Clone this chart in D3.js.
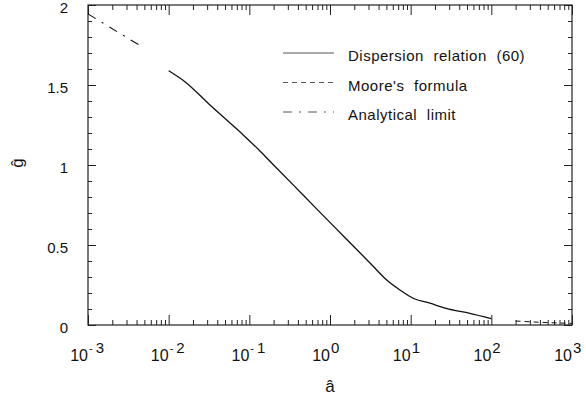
<!DOCTYPE html>
<html>
<head>
<meta charset="utf-8">
<script src="https://cdn.jsdelivr.net/npm/d3@7"></script>
<style>
  body { margin: 0; background: #fff; }
  svg text { font-family: "Liberation Sans", Arial, sans-serif; fill: #111; }
  .tick line { stroke: #222; }
</style>
</head>
<body>
<div id="chart"></div>
<script>
// Dispersion relation (60)
const dispA = [0.01, 0.0159, 0.0325, 0.0524, 0.084, 0.129, 0.189, 0.367, 0.65, 1.15, 2.04, 3.43, 5.05, 7.36, 10.7, 17.3, 27.5, 54.3, 100];
const dispG = [1.589, 1.521, 1.375, 1.281, 1.188, 1.098, 1.013, 0.865, 0.737, 0.61, 0.483, 0.367, 0.281, 0.219, 0.167, 0.136, 0.104, 0.073, 0.04];

// Moore's formula (large a)
const mooreA = [200, 400, 1000];
const mooreG = [0.025, 0.017, 0.01];

// Analytical limit (small a)
const limitA = [0.001, 0.005];
const limitG = [1.944, 1.73];

const xDecades = [-3, -2, -1, 0, 1, 2, 3];
const yLabels = [0, 0.5, 1, 1.5, 2];

const legendItems = [
    { label: 'Dispersion relation (60)', dash: null },
    { label: "Moore's formula", dash: '5,4' },
    { label: 'Analytical limit', dash: '9,7,2,7' }
];

const W = 586, H = 398;
const margin = { top: 5, right: 14, bottom: 73, left: 88 };
const width = W - margin.left - margin.right;
const height = H - margin.top - margin.bottom;

const svg = d3.select('#chart').append('svg')
    .attr('width', W)
    .attr('height', H);

const g = svg.append('g')
    .attr('transform', `translate(${margin.left},${margin.top})`);

const x = d3.scaleLog().domain([1e-3, 1e3]).range([0, width]);
const y = d3.scaleLinear().domain([0, 2]).range([height, 0]);

// tick values
const majorX = xDecades.map(e => Math.pow(10, e));
const minorX = [];
xDecades.slice(0, -1).forEach(e => {
    for (let k = 2; k <= 9; k++) minorX.push(k * Math.pow(10, e));
});
const minorY = d3.range(0, 21).map(i => i / 10).filter(v => !yLabels.includes(v));

function tickAxis(axisFn, scale, values, size, transform) {
    const a = g.append('g')
        .attr('transform', transform)
        .call(axisFn(scale).tickValues(values).tickSize(size).tickFormat(''));
    a.select('.domain').remove();
    a.selectAll('.tick line').attr('stroke-width', 1);
}

// bottom + top (ticks pointing inward)
tickAxis(d3.axisBottom, x, majorX, -10, `translate(0,${height})`);
tickAxis(d3.axisBottom, x, minorX, -5, `translate(0,${height})`);
tickAxis(d3.axisTop, x, majorX, -10, 'translate(0,0)');
tickAxis(d3.axisTop, x, minorX, -5, 'translate(0,0)');
// left + right
tickAxis(d3.axisLeft, y, yLabels, -8, 'translate(0,0)');
tickAxis(d3.axisLeft, y, minorY, -4, 'translate(0,0)');
tickAxis(d3.axisRight, y, yLabels, -8, `translate(${width},0)`);
tickAxis(d3.axisRight, y, minorY, -4, `translate(${width},0)`);

// frame
g.append('rect')
    .attr('width', width)
    .attr('height', height)
    .attr('fill', 'none')
    .attr('stroke', '#222')
    .attr('stroke-width', 1.2);

// x tick labels: 10 with exponent
xDecades.forEach(e => {
    const px = x(Math.pow(10, e));
    g.append('text')
        .attr('x', px)
        .attr('y', height + 36)
        .attr('text-anchor', 'end')
        .attr('font-size', '16px')
        .text('10');
    const sup = g.append('text')
        .attr('x', px + 1)
        .attr('y', height + 28)
        .attr('font-size', '15px');
    if (e < 0) {
        sup.append('tspan').attr('font-size', '11px').attr('dy', -1).text('-');
        sup.append('tspan').attr('dx', 3).attr('dy', 1).text(String(-e));
    } else {
        sup.text(String(e));
    }
});

// y tick labels
yLabels.forEach(v => {
    g.append('text')
        .attr('x', -20)
        .attr('y', y(v) + 3)
        .attr('dy', '0.35em')
        .attr('text-anchor', 'end')
        .attr('font-size', '15px')
        .text(v === 0 ? '0' : String(v));
});

// axis titles
g.append('text')
    .attr('x', x(1))
    .attr('y', height + 67)
    .attr('text-anchor', 'middle')
    .attr('font-size', '17px')
    .text('â');

svg.append('text')
    .attr('transform', `translate(23,163) rotate(-90)`)
    .attr('text-anchor', 'middle')
    .attr('font-size', '17px')
    .text('ĝ');

// curves
g.append('defs').append('clipPath').attr('id', 'plot-clip')
    .append('rect').attr('width', width).attr('height', height);

const line = d3.line()
    .x(d => x(d[0]))
    .y(d => y(d[1]))
    .curve(d3.curveMonotoneX);

const curves = g.append('g').attr('clip-path', 'url(#plot-clip)');

curves.append('path')
    .datum(dispA.map((a, i) => [a, dispG[i]]))
    .attr('fill', 'none')
    .attr('stroke', '#111')
    .attr('stroke-width', 1.3)
    .attr('d', line);

curves.append('path')
    .datum(mooreA.map((a, i) => [a, mooreG[i]]))
    .attr('fill', 'none')
    .attr('stroke', '#111')
    .attr('stroke-width', 1)
    .attr('stroke-dasharray', '5,4')
    .attr('d', line);

curves.append('path')
    .datum(limitA.map((a, i) => [a, limitG[i]]))
    .attr('fill', 'none')
    .attr('stroke', '#111')
    .attr('stroke-width', 1.1)
    .attr('stroke-dasharray', '9,7,2,7')
    .attr('d', line);

// legend
const legend = svg.append('g');
legendItems.forEach((item, i) => {
    const ly = 53 + i * 29.5;
    legend.append('line')
        .attr('x1', 283).attr('x2', 334)
        .attr('y1', ly).attr('y2', ly)
        .attr('stroke', '#555')
        .attr('stroke-width', 1)
        .attr('stroke-dasharray', item.dash);
    legend.append('text')
        .attr('x', 348)
        .attr('y', ly + 8)
        .attr('font-size', '15px')
        .attr('letter-spacing', '0.5px')
        .attr('word-spacing', '5px')
        .text(item.label);
});
</script>
</body>
</html>
